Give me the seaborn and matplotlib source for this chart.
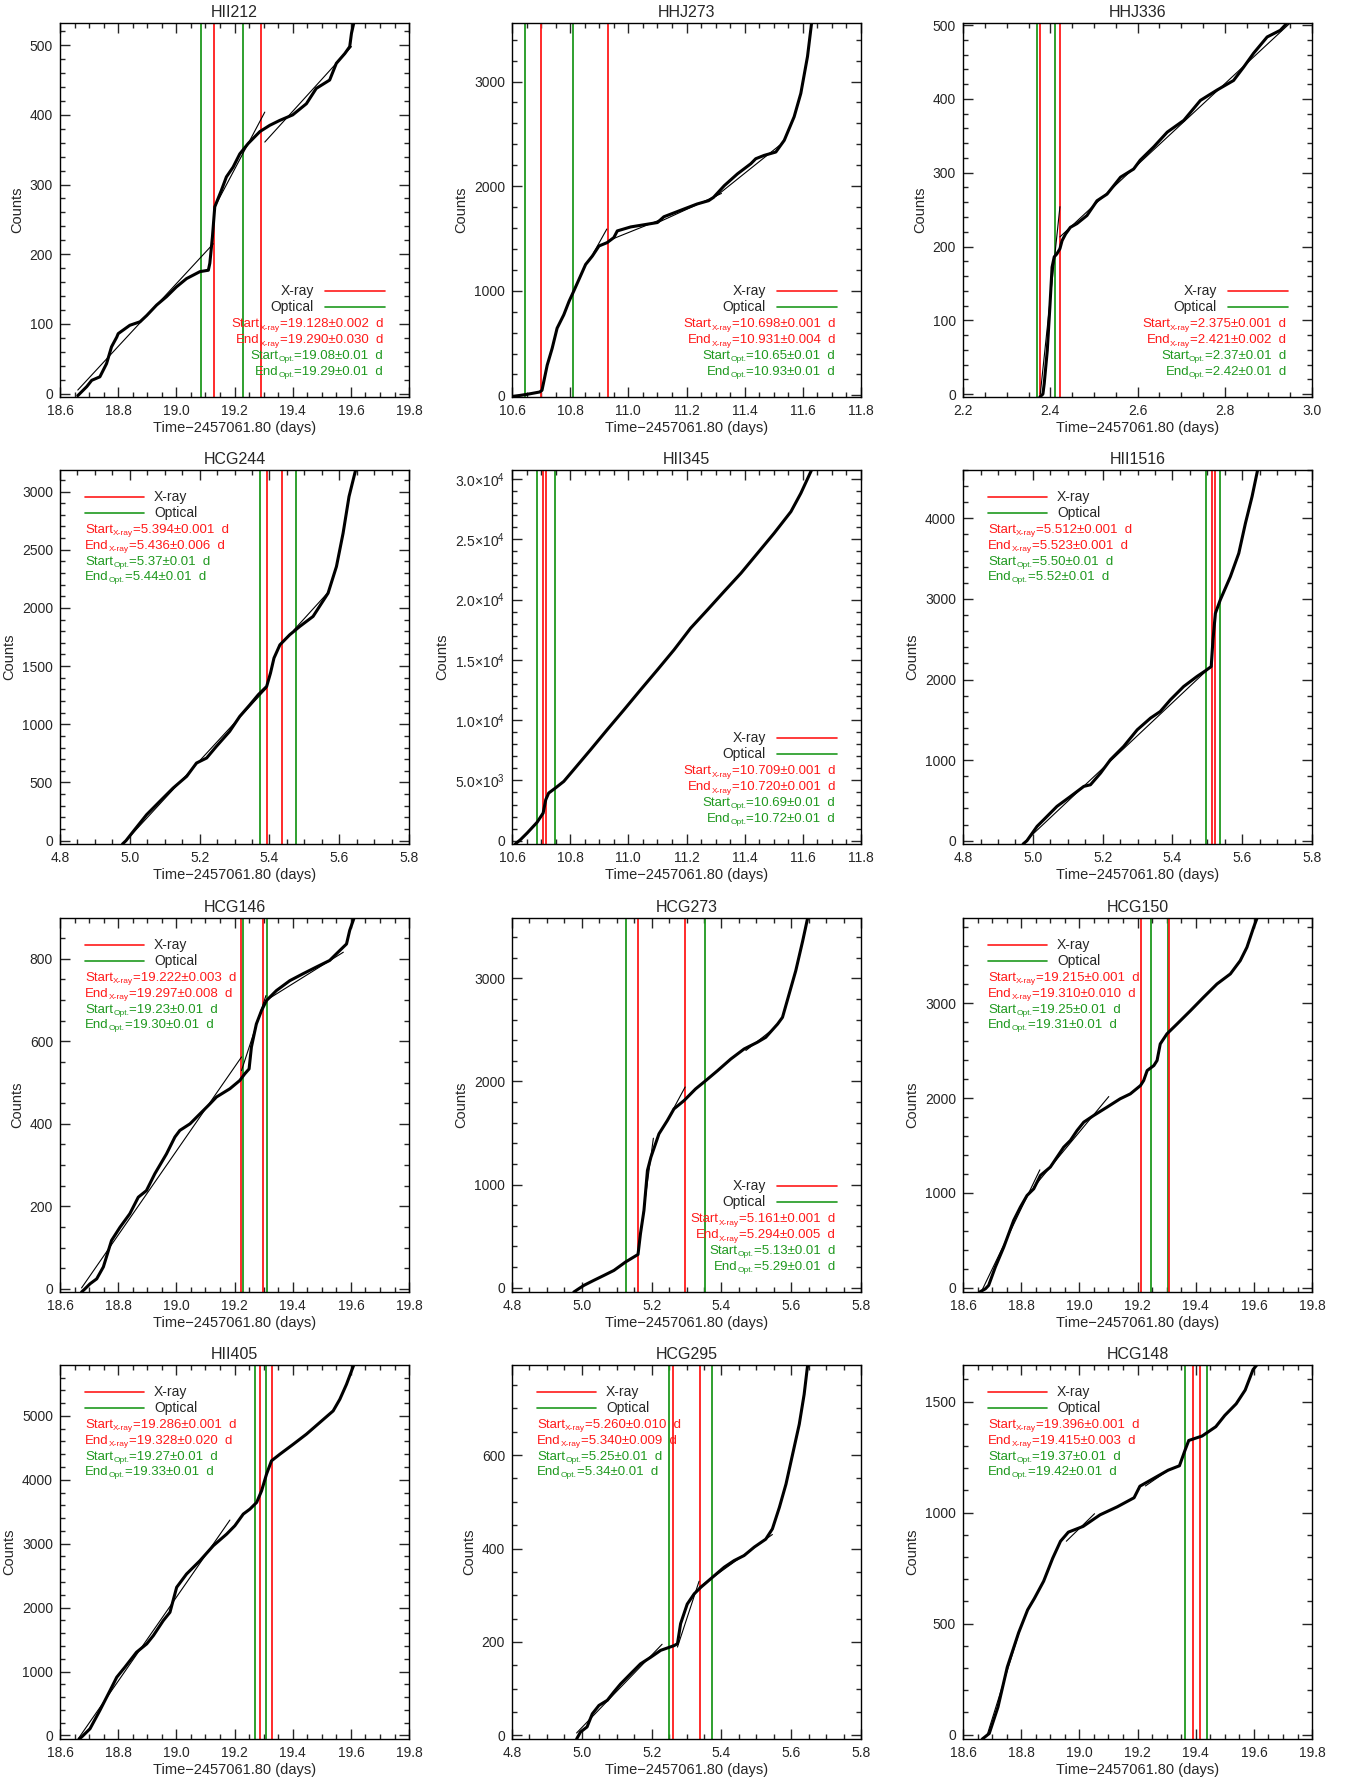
import matplotlib
matplotlib.use("Agg")
import matplotlib.pyplot as plt
import seaborn as sns
from matplotlib.ticker import MultipleLocator, AutoMinorLocator, FormatStrFormatter, FuncFormatter
from matplotlib.transforms import ScaledTranslation

# cumulative X-ray counts vs time, one block of arrays per star
hii212_t = [18.661, 18.692, 18.709, 18.737, 18.760, 18.777, 18.795, 18.800, 18.840, 18.875, 18.898, 18.932,
            18.966, 19.000, 19.035, 19.081, 19.110, 19.115, 19.124, 19.132, 19.155, 19.172, 19.195, 19.218,
            19.247, 19.287, 19.321, 19.355, 19.400, 19.447, 19.481, 19.527, 19.550, 19.579, 19.596, 19.602, 19.610]
hii212_c = [-3, 10, 19, 24, 43, 67, 81, 86, 98, 103, 112, 127, 139, 153, 165, 175, 177, 187, 225, 268, 292, 311,
            325, 344, 359, 376, 385, 392, 400, 416, 438, 450, 474, 488, 498, 517, 532]
hii212_fit_t = [[18.661, 19.127], [19.132, 19.304], [19.304, 19.602]]
hii212_fit_c = [[5, 215], [268, 404], [361, 498]]
hii212_xray = [19.128, 19.290]
hii212_opt = [19.084, 19.228]
hii212_stats = ["19.128±0.002", "19.290±0.030", "19.08±0.01", "19.29±0.01"]

hhj273_t = [10.605, 10.652, 10.695, 10.703, 10.721, 10.738, 10.755, 10.778, 10.796, 10.812, 10.830, 10.853,
            10.876, 10.899, 10.927, 10.950, 10.962, 11.008, 11.065, 11.100, 11.122, 11.190, 11.236, 11.276,
            11.293, 11.330, 11.375, 11.421, 11.438, 11.467, 11.507, 11.536, 11.570, 11.593, 11.616, 11.630]
hhj273_c = [-10, 10, 32, 48, 289, 449, 642, 770, 898, 995, 1107, 1251, 1331, 1428, 1460, 1508, 1572, 1610, 1636,
            1652, 1707, 1780, 1829, 1861, 1893, 2005, 2117, 2214, 2262, 2294, 2326, 2438, 2663, 2887, 3240, 3560]
hhj273_fit_t = [[10.880, 10.926], [10.950, 11.120], [11.100, 11.320], [11.300, 11.520]]
hhj273_fit_c = [[1360, 1590], [1500, 1690], [1650, 1930], [1900, 2390]]
hhj273_xray = [10.698, 10.931]
hhj273_opt = [10.646, 10.810]
hhj273_stats = ["10.698±0.001", "10.931±0.004", "10.65±0.01", "10.93±0.01"]

hhj336_t = [2.376, 2.383, 2.386, 2.393, 2.399, 2.404, 2.409, 2.415, 2.422, 2.427, 2.435, 2.446, 2.461, 2.484,
            2.507, 2.530, 2.561, 2.591, 2.606, 2.637, 2.668, 2.706, 2.744, 2.782, 2.820, 2.843, 2.866, 2.897,
            2.927, 2.943]
hhj336_c = [-4, 0, 14, 59, 118, 172, 186, 190, 197, 208, 217, 226, 231, 242, 262, 271, 294, 305, 317, 335, 355,
            371, 398, 412, 425, 443, 462, 484, 493, 503]
hhj336_fit_t = [[2.377, 2.422], [2.422, 2.950]]
hhj336_fit_c = [[0, 254], [213, 503]]
hhj336_xray = [2.376, 2.422]
hhj336_opt = [2.370, 2.410]
hhj336_stats = ["2.375±0.001", "2.421±0.002", "2.37±0.01", "2.42±0.01"]

hcg244_t = [4.979, 4.989, 5.010, 5.048, 5.086, 5.124, 5.163, 5.191, 5.220, 5.248, 5.286, 5.315, 5.344, 5.368,
            5.392, 5.403, 5.413, 5.430, 5.458, 5.487, 5.525, 5.568, 5.592, 5.611, 5.628, 5.647]
hcg244_c = [-29, 0, 80, 223, 338, 452, 553, 667, 710, 810, 939, 1068, 1168, 1254, 1325, 1440, 1569, 1683, 1769,
            1841, 1927, 2127, 2356, 2642, 2957, 3186]
hcg244_fit_t = [[4.989, 5.392], [5.470, 5.570]]
hcg244_fit_c = [[0, 1311], [1810, 2140]]
hcg244_xray = [5.394, 5.436]
hcg244_opt = [5.373, 5.476]
hcg244_stats = ["5.394±0.001", "5.436±0.006", "5.37±0.01", "5.44±0.01"]

hii345_t = [10.611, 10.629, 10.652, 10.686, 10.707, 10.716, 10.726, 10.749, 10.778, 10.812, 10.870, 10.927,
            10.985, 11.042, 11.100, 11.157, 11.214, 11.272, 11.329, 11.387, 11.444, 11.501, 11.559, 11.593, 11.630]
hii345_c = [-276, 83, 635, 1519, 2293, 3398, 3950, 4365, 4917, 5884, 7541, 9199, 10856, 12514, 14171, 15829,
            17624, 19144, 20663, 22182, 23840, 25497, 27293, 28812, 30746]
hii345_fit_t = []
hii345_fit_c = []
hii345_xray = [10.708, 10.718]
hii345_opt = [10.685, 10.748]
hii345_stats = ["10.709±0.001", "10.720±0.001", "10.69±0.01", "10.72±0.01"]

hii1516_t = [4.972, 4.983, 5.012, 5.031, 5.069, 5.108, 5.146, 5.165, 5.194, 5.222, 5.260, 5.299, 5.337, 5.365,
             5.394, 5.432, 5.470, 5.494, 5.511, 5.516, 5.523, 5.537, 5.566, 5.590, 5.609, 5.628, 5.644]
hii1516_c = [-41, 0, 178, 260, 426, 550, 674, 694, 839, 1004, 1169, 1376, 1521, 1603, 1748, 1913, 2037, 2107,
             2161, 2492, 2822, 2988, 3277, 3566, 3938, 4269, 4600]
hii1516_fit_t = [[4.980, 5.500]]
hii1516_fit_c = [[0, 2120]]
hii1516_xray = [5.512, 5.523]
hii1516_opt = [5.495, 5.537]
hii1516_stats = ["5.512±0.001", "5.523±0.001", "5.50±0.01", "5.52±0.01"]

hcg146_t = [18.674, 18.686, 18.703, 18.726, 18.749, 18.777, 18.806, 18.840, 18.869, 18.897, 18.926, 18.966,
            18.995, 19.012, 19.047, 19.081, 19.115, 19.138, 19.184, 19.218, 19.235, 19.250, 19.258, 19.275,
            19.293, 19.310, 19.344, 19.390, 19.436, 19.481, 19.527, 19.550, 19.585, 19.596, 19.611]
hcg146_c = [-8, 0, 12, 24, 53, 117, 149, 182, 222, 238, 279, 327, 368, 384, 400, 424, 448, 465, 485, 505, 521,
            533, 586, 642, 675, 699, 723, 747, 764, 780, 796, 812, 836, 869, 899]
hcg146_fit_t = [[18.674, 19.224], [19.224, 19.308], [19.308, 19.574]]
hcg146_fit_c = [[2, 562], [529, 711], [699, 816]]
hcg146_xray = [19.223, 19.299]
hcg146_opt = [19.228, 19.310]
hcg146_stats = ["19.222±0.003", "19.297±0.008", "19.23±0.01", "19.30±0.01"]

hcg273_t = [4.977, 4.991, 5.006, 5.034, 5.063, 5.092, 5.125, 5.161, 5.168, 5.178, 5.188, 5.198, 5.221, 5.245,
            5.264, 5.293, 5.326, 5.355, 5.389, 5.427, 5.465, 5.503, 5.527, 5.561, 5.575, 5.594, 5.613, 5.633, 5.647]
hcg273_c = [-42, -10, 23, 71, 119, 168, 249, 323, 523, 749, 1137, 1266, 1492, 1621, 1734, 1815, 1928, 2008,
            2105, 2218, 2315, 2380, 2428, 2557, 2622, 2848, 3074, 3365, 3584]
hcg273_fit_t = [[5.168, 5.205], [5.260, 5.296], [5.470, 5.545]]
hcg273_fit_c = [[520, 1450], [1720, 1946], [2300, 2500]]
hcg273_xray = [5.162, 5.296]
hcg273_opt = [5.128, 5.353]
hcg273_stats = ["5.161±0.001", "5.294±0.005", "5.13±0.01", "5.29±0.01"]

hcg150_t = [18.657, 18.677, 18.688, 18.711, 18.740, 18.774, 18.797, 18.820, 18.843, 18.866, 18.900, 18.923,
            18.946, 18.969, 18.992, 19.015, 19.049, 19.095, 19.140, 19.175, 19.210, 19.221, 19.233, 19.256,
            19.267, 19.278, 19.301, 19.336, 19.382, 19.427, 19.473, 19.519, 19.553, 19.576, 19.599, 19.611]
hcg150_c = [-46, -11, 25, 218, 429, 710, 850, 973, 1043, 1184, 1272, 1377, 1482, 1553, 1658, 1746, 1816, 1904,
            1992, 2044, 2132, 2185, 2290, 2343, 2396, 2571, 2677, 2782, 2922, 3063, 3203, 3309, 3449, 3590,
            3800, 3899]
hcg150_fit_t = [[18.665, 18.864], [18.843, 19.101]]
hcg150_fit_c = [[-28, 1243], [1061, 2016]]
hcg150_xray = [19.213, 19.309]
hcg150_opt = [19.246, 19.306]
hcg150_stats = ["19.215±0.001", "19.310±0.010", "19.25±0.01", "19.31±0.01"]

hii405_t = [18.665, 18.674, 18.703, 18.737, 18.772, 18.795, 18.823, 18.863, 18.898, 18.921, 18.955, 18.978,
            19.001, 19.035, 19.081, 19.127, 19.173, 19.201, 19.230, 19.253, 19.276, 19.293, 19.310, 19.327,
            19.356, 19.402, 19.447, 19.493, 19.539, 19.562, 19.585, 19.610]
hii405_c = [-57, -26, 104, 391, 703, 911, 1068, 1302, 1432, 1563, 1797, 1927, 2318, 2526, 2734, 2969, 3151,
            3281, 3464, 3542, 3646, 3828, 4089, 4297, 4401, 4557, 4714, 4896, 5078, 5260, 5495, 5797]
hii405_fit_t = [[18.665, 19.184]]
hii405_fit_c = [[-36, 3370]]
hii405_xray = [19.286, 19.329]
hii405_opt = [19.269, 19.309]
hii405_stats = ["19.286±0.001", "19.328±0.020", "19.27±0.01", "19.33±0.01"]

hcg295_t = [4.985, 4.996, 5.015, 5.030, 5.049, 5.073, 5.092, 5.111, 5.140, 5.168, 5.197, 5.226, 5.264, 5.274,
            5.283, 5.302, 5.322, 5.341, 5.369, 5.408, 5.436, 5.465, 5.494, 5.527, 5.546, 5.566, 5.585, 5.604,
            5.623, 5.637, 5.647]
hcg295_c = [-8, 7, 18, 46, 64, 75, 93, 110, 132, 153, 167, 182, 192, 196, 239, 281, 303, 317, 335, 360, 374,
            385, 403, 420, 442, 488, 538, 602, 666, 730, 793]
hcg295_fit_t = [[4.985, 5.230], [5.274, 5.336], [5.336, 5.546]]
hcg295_fit_c = [[5, 195], [189, 330], [317, 430]]
hcg295_xray = [5.260, 5.340]
hcg295_opt = [5.251, 5.373]
hcg295_stats = ["5.260±0.010", "5.340±0.009", "5.25±0.01", "5.34±0.01"]

hcg148_t = [18.666, 18.690, 18.720, 18.752, 18.791, 18.822, 18.845, 18.877, 18.908, 18.935, 18.962, 19.013,
            19.071, 19.130, 19.188, 19.208, 19.235, 19.305, 19.344, 19.364, 19.376, 19.422, 19.469, 19.500,
            19.539, 19.570, 19.597, 19.610]
hcg148_c = [-20, 5, 124, 304, 459, 562, 613, 691, 794, 871, 912, 938, 990, 1026, 1067, 1119, 1139, 1191, 1211,
            1284, 1325, 1345, 1387, 1438, 1490, 1552, 1644, 1665]
hcg148_fit_t = [[18.682, 18.800], [18.955, 19.052], [19.227, 19.305]]
hcg148_fit_c = [[-5, 490], [871, 995], [1120, 1190]]
hcg148_xray = [19.391, 19.414]
hcg148_opt = [19.364, 19.438]
hcg148_stats = ["19.396±0.001", "19.415±0.003", "19.37±0.01", "19.42±0.01"]

panels = [
    ("HII212", hii212_t, hii212_c, hii212_fit_t, hii212_fit_c, hii212_xray, hii212_opt, hii212_stats,
     (18.6, 19.8), (-5, 532), 100, 5, "br"),
    ("HHJ273", hhj273_t, hhj273_c, hhj273_fit_t, hhj273_fit_c, hhj273_xray, hhj273_opt, hhj273_stats,
     (10.6, 11.8), (-16, 3560), 1000, 5, "br"),
    ("HHJ336", hhj336_t, hhj336_c, hhj336_fit_t, hhj336_fit_c, hhj336_xray, hhj336_opt, hhj336_stats,
     (2.2, 3.0), (-4, 503), 100, 5, "br"),
    ("HCG244", hcg244_t, hcg244_c, hcg244_fit_t, hcg244_fit_c, hcg244_xray, hcg244_opt, hcg244_stats,
     (4.8, 5.8), (-29, 3186), 500, 5, "tl"),
    ("HII345", hii345_t, hii345_c, hii345_fit_t, hii345_fit_c, hii345_xray, hii345_opt, hii345_stats,
     (10.6, 11.8), (-276, 30750), 5000, 5, "br"),
    ("HII1516", hii1516_t, hii1516_c, hii1516_fit_t, hii1516_fit_c, hii1516_xray, hii1516_opt, hii1516_stats,
     (4.8, 5.8), (-41, 4600), 1000, 5, "tl"),
    ("HCG146", hcg146_t, hcg146_c, hcg146_fit_t, hcg146_fit_c, hcg146_xray, hcg146_opt, hcg146_stats,
     (18.6, 19.8), (-8, 899), 200, 4, "tl"),
    ("HCG273", hcg273_t, hcg273_c, hcg273_fit_t, hcg273_fit_c, hcg273_xray, hcg273_opt, hcg273_stats,
     (4.8, 5.8), (-42, 3585), 1000, 5, "br"),
    ("HCG150", hcg150_t, hcg150_c, hcg150_fit_t, hcg150_fit_c, hcg150_xray, hcg150_opt, hcg150_stats,
     (18.6, 19.8), (-46, 3899), 1000, 5, "tl"),
    ("HII405", hii405_t, hii405_c, hii405_fit_t, hii405_fit_c, hii405_xray, hii405_opt, hii405_stats,
     (18.6, 19.8), (-57, 5797), 1000, 5, "tl"),
    ("HCG295", hcg295_t, hcg295_c, hcg295_fit_t, hcg295_fit_c, hcg295_xray, hcg295_opt, hcg295_stats,
     (4.8, 5.8), (-8, 793), 200, 4, "tl"),
    ("HCG148", hcg148_t, hcg148_c, hcg148_fit_t, hcg148_fit_c, hcg148_xray, hcg148_opt, hcg148_stats,
     (18.6, 19.8), (-20, 1665), 500, 5, "tl"),
]

sns.set_style("ticks")
plt.rcParams['font.family'] = ['Liberation Sans', 'DejaVu Sans']
plt.rcParams['mathtext.fontset'] = 'custom'
plt.rcParams['mathtext.rm'] = 'Liberation Sans'
plt.rcParams['axes.linewidth'] = 1.0

RED = "#ff1a1a"
GREEN = "#1f991f"


def sci_fmt(v, pos):
    if abs(v) < 1e-9:
        return "0"
    e = 0
    m = v
    while abs(m) >= 10:
        m /= 10.0
        e += 1
    return "%.1f×10$^{%d}$" % (m, e)


fig = plt.figure(figsize=(13.46, 17.78), dpi=100)
renderer = fig.canvas.get_renderer()


def stat_line(ax, x, y, head, sub, value, color, align):
    # "Start" + small lowered subscript + "=value  d", laid out piece by piece
    parts = [(head, 9.5, 0), (sub, 6, -2.5), ("=" + value + "  d", 9.5, 0)]
    texts = []
    for s, fs, dy in parts:
        tx = ax.text(x, y, s, transform=ax.transAxes, fontsize=fs, color=color, ha="left", va="baseline")
        texts.append((tx, dy))
    widths = [tx.get_window_extent(renderer).width for tx, _ in texts]
    start = 0 if align == "left" else -sum(widths)
    for (tx, dy), w in zip(texts, widths):
        tx.set_transform(ax.transAxes + ScaledTranslation(start / fig.dpi, dy / fig.dpi, fig.dpi_scale_trans))
        start += w


lefts = [0.0446, 0.3804, 0.7155]
bottoms = [0.7767, 0.5253, 0.2733, 0.0219]
W, H = 0.2593, 0.2104

for i, p in enumerate(panels):
    name, t, c, ft, fc, xray, opt, stats, xlim, ylim, ystep, yminor, corner = p
    ax = fig.add_axes([lefts[i % 3], bottoms[i // 3], W, H])

    for x in opt:
        ax.axvline(x, color=GREEN, lw=1.3, zorder=1)
    for x in xray:
        ax.axvline(x, color=RED, lw=1.3, zorder=1)

    sns.lineplot(x=t, y=c, sort=False, estimator=None, color="black", linewidth=2.2, ax=ax, zorder=3)
    for st, sc in zip(ft, fc):
        ax.plot(st, sc, color="black", lw=0.8, zorder=4)

    ax.set_xlim(*xlim)
    ax.set_ylim(*ylim)
    ax.xaxis.set_major_locator(MultipleLocator(0.2))
    ax.xaxis.set_minor_locator(AutoMinorLocator(4))
    ax.xaxis.set_major_formatter(FormatStrFormatter('%.1f'))
    ax.yaxis.set_major_locator(MultipleLocator(ystep))
    ax.yaxis.set_minor_locator(AutoMinorLocator(yminor))
    if ystep >= 5000:
        ax.yaxis.set_major_formatter(FuncFormatter(sci_fmt))
    ax.tick_params(which="both", direction="in", top=True, right=True, width=1.0, labelsize=10, pad=5)
    ax.tick_params(which="major", length=7)
    ax.tick_params(which="minor", length=3.5)
    for s in ax.spines.values():
        s.set_visible(True)
        s.set_color("black")

    ax.set_title(name, fontsize=11.5, pad=4)
    ax.set_xlabel("Time−2457061.80 (days)", fontsize=10.5, labelpad=2)
    ax.set_ylabel("Counts", fontsize=10.5)

    rows_stats = [("Start", "X-ray", stats[0], RED), ("End", "X-ray", stats[1], RED),
                  ("Start", "Opt.", stats[2], GREEN), ("End", "Opt.", stats[3], GREEN)]
    if corner == "br":
        rows = [0.283, 0.241, 0.198, 0.156, 0.114, 0.072]
        ax.text(0.727, rows[0], "X-ray", transform=ax.transAxes, ha="right", va="center", fontsize=10)
        ax.text(0.727, rows[1], "Optical", transform=ax.transAxes, ha="right", va="center", fontsize=10)
        ax.plot([0.76, 0.93], [rows[0], rows[0]], color=RED, lw=1.2, transform=ax.transAxes)
        ax.plot([0.76, 0.93], [rows[1], rows[1]], color=GREEN, lw=1.2, transform=ax.transAxes)
        for (hd, sb, val, col), y in zip(rows_stats, rows[2:]):
            stat_line(ax, 0.926, y - 0.012, hd, sb, val, col, "right")
    else:
        rows = [0.927, 0.886, 0.844, 0.801, 0.759, 0.718]
        ax.plot([0.072, 0.241], [rows[0], rows[0]], color=RED, lw=1.2, transform=ax.transAxes)
        ax.plot([0.072, 0.241], [rows[1], rows[1]], color=GREEN, lw=1.2, transform=ax.transAxes)
        ax.text(0.269, rows[0], "X-ray", transform=ax.transAxes, ha="left", va="center", fontsize=10)
        ax.text(0.269, rows[1], "Optical", transform=ax.transAxes, ha="left", va="center", fontsize=10)
        for (hd, sb, val, col), y in zip(rows_stats, rows[2:]):
            stat_line(ax, 0.072, y - 0.012, hd, sb, val, col, "left")

fig.savefig("out.png", dpi=100)
